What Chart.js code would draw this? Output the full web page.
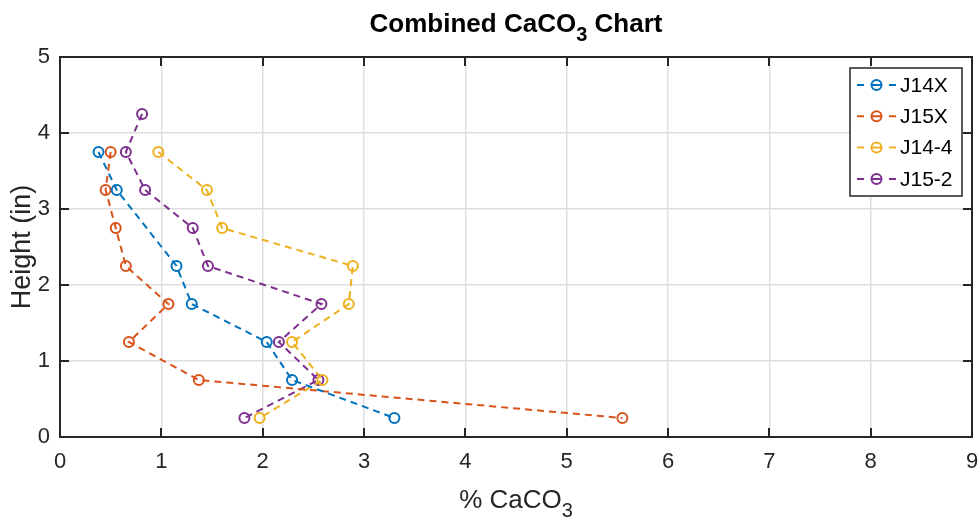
<!DOCTYPE html>
<html>
<head>
<meta charset="utf-8">
<title>Combined CaCO3 Chart</title>
<script src="https://cdn.jsdelivr.net/npm/chart.js@4"></script>
<style>
  html, body { margin: 0; padding: 0; background: #fff; }
  canvas { display: block; }
</style>
</head>
<body>
<canvas id="caco3Chart" width="979" height="520"></canvas>
<script>
// Sample heights (in) and % CaCO3 for each core
const heightsJ14X = [3.75, 3.25, 2.25, 1.75, 1.25, 0.75, 0.25];
const caco3J14X = [0.38, 0.56, 1.15, 1.30, 2.04, 2.29, 3.30];

const heightsJ15X = [3.75, 3.25, 2.75, 2.25, 1.75, 1.25, 0.75, 0.25];
const caco3J15X = [0.50, 0.45, 0.55, 0.65, 1.07, 0.68, 1.37, 5.55];

const heightsJ144 = [3.75, 3.25, 2.75, 2.25, 1.75, 1.25, 0.75, 0.25];
const caco3J144 = [0.97, 1.45, 1.60, 2.89, 2.85, 2.29, 2.59, 1.97];

const heightsJ152 = [4.25, 3.75, 3.25, 2.75, 2.25, 1.75, 1.25, 0.75, 0.25];
const caco3J152 = [0.81, 0.65, 0.84, 1.31, 1.46, 2.58, 2.16, 2.55, 1.82];

const seriesNames = ["J14X", "J15X", "J14-4", "J15-2"];
const seriesColors = ["#0072BD", "#D95319", "#EDB120", "#7E2F8E"];

const xTickValues = [0, 1, 2, 3, 4, 5, 6, 7, 8, 9];
const yTickValues = [0, 1, 2, 3, 4, 5];

const FONT = "'Liberation Sans', Arial, Helvetica, sans-serif";
const INK = "#262626";
const DASH = [7, 5];

function toPoints(xs, ys) {
  return xs.map((x, i) => ({ x, y: ys[i] }));
}

const seriesData = [
  toPoints(caco3J14X, heightsJ14X),
  toPoints(caco3J15X, heightsJ15X),
  toPoints(caco3J144, heightsJ144),
  toPoints(caco3J152, heightsJ152)
];

const datasets = seriesData.map((pts, i) => ({
  label: seriesNames[i],
  data: pts,
  showLine: true,
  borderColor: seriesColors[i],
  borderWidth: 2,
  borderDash: DASH,
  pointStyle: "circle",
  pointRadius: 5,
  pointHoverRadius: 5,
  pointBorderWidth: 2,
  pointBackgroundColor: "rgba(0,0,0,0)",
  pointBorderColor: seriesColors[i],
  tension: 0
}));

// text with a trailing subscript part, e.g. CaCO + 3
function drawSubText(ctx, parts, cx, baseline, size, weight) {
  ctx.save();
  ctx.fillStyle = weight === "bold" ? "#000" : INK;
  ctx.textBaseline = "alphabetic";
  ctx.textAlign = "left";
  const subSize = Math.round(size * 0.75);
  let total = 0;
  for (const p of parts) {
    ctx.font = `${weight} ${p.sub ? subSize : size}px ${FONT}`;
    total += ctx.measureText(p.text).width;
  }
  let x = cx - total / 2;
  for (const p of parts) {
    ctx.font = `${weight} ${p.sub ? subSize : size}px ${FONT}`;
    ctx.fillText(p.text, x, baseline + (p.sub ? size * 0.35 : 0));
    x += ctx.measureText(p.text).width;
  }
  ctx.restore();
}

const frame = {
  id: "frame",
  afterDatasetsDraw(chart) {
    const { ctx, chartArea: a, scales } = chart;
    const tick = 9;
    ctx.save();
    ctx.strokeStyle = INK;
    ctx.lineWidth = 2;
    ctx.beginPath();
    for (const v of xTickValues) {
      const px = Math.round(scales.x.getPixelForValue(v));
      ctx.moveTo(px, a.bottom); ctx.lineTo(px, a.bottom - tick);
      ctx.moveTo(px, a.top); ctx.lineTo(px, a.top + tick);
    }
    for (const v of yTickValues) {
      const py = Math.round(scales.y.getPixelForValue(v));
      ctx.moveTo(a.left, py); ctx.lineTo(a.left + tick, py);
      ctx.moveTo(a.right, py); ctx.lineTo(a.right - tick, py);
    }
    ctx.stroke();
    ctx.strokeRect(a.left, a.top, a.right - a.left, a.bottom - a.top);
    ctx.restore();

    // legend box in the upper right corner
    const lx = 850, ly = 68, lw = 112, lh = 128;
    ctx.save();
    ctx.fillStyle = "#fff";
    ctx.fillRect(lx, ly, lw, lh);
    ctx.strokeStyle = INK;
    ctx.lineWidth = 1.5;
    ctx.strokeRect(lx, ly, lw, lh);
    chart.data.datasets.forEach((ds, i) => {
      const cy = ly + 17 + i * 31.3;
      ctx.strokeStyle = ds.borderColor;
      ctx.lineWidth = 2;
      ctx.beginPath();
      ctx.moveTo(857, cy); ctx.lineTo(864, cy);
      ctx.moveTo(871, cy); ctx.lineTo(882, cy);
      ctx.moveTo(889, cy); ctx.lineTo(896, cy);
      ctx.stroke();
      ctx.beginPath();
      ctx.arc(876.5, cy, 5, 0, Math.PI * 2);
      ctx.stroke();
      ctx.fillStyle = "#000";
      ctx.font = `21px ${FONT}`;
      ctx.textBaseline = "middle";
      ctx.textAlign = "left";
      ctx.fillText(ds.label, 900, cy + 1);
    });
    ctx.restore();

    // titles
    const mid = (a.left + a.right) / 2;
    drawSubText(ctx, [{ text: "Combined CaCO" }, { text: "3", sub: true }, { text: " Chart" }], mid, 32, 26, "bold");
    drawSubText(ctx, [{ text: "% CaCO" }, { text: "3", sub: true }], mid, 508, 26, "normal");

    ctx.save();
    ctx.translate(30, (a.top + a.bottom) / 2);
    ctx.rotate(-Math.PI / 2);
    ctx.fillStyle = INK;
    ctx.font = `27px ${FONT}`;
    ctx.textAlign = "center";
    ctx.textBaseline = "alphabetic";
    ctx.fillText("Height (in)", 0, 0);
    ctx.restore();
  }
};

new Chart(document.getElementById("caco3Chart"), {
  type: "scatter",
  data: { datasets },
  options: {
    responsive: false,
    animation: false,
    devicePixelRatio: 1,
    layout: { padding: { top: 57, right: 6, left: 0, bottom: 0 } },
    plugins: { legend: { display: false }, tooltip: { enabled: false }, title: { display: false } },
    scales: {
      x: {
        type: "linear",
        min: 0, max: 9,
        afterFit(s) { s.height = 83; s.paddingLeft = 0; s.paddingRight = 0; },
        afterBuildTicks(s) { s.ticks = xTickValues.map(v => ({ value: v })); },
        ticks: { color: INK, font: { family: FONT, size: 22 }, padding: 12, maxRotation: 0 },
        grid: { color: "#dedede", lineWidth: 1.5, drawTicks: false },
        border: { display: false }
      },
      y: {
        type: "linear",
        min: 0, max: 5,
        afterFit(s) { s.width = 60; s.paddingTop = 0; s.paddingBottom = 0; },
        afterBuildTicks(s) { s.ticks = yTickValues.map(v => ({ value: v })); },
        ticks: { color: INK, font: { family: FONT, size: 22 }, padding: 10 },
        grid: { color: "#dedede", lineWidth: 1.5, drawTicks: false },
        border: { display: false }
      }
    }
  },
  plugins: [frame]
});
</script>
</body>
</html>
